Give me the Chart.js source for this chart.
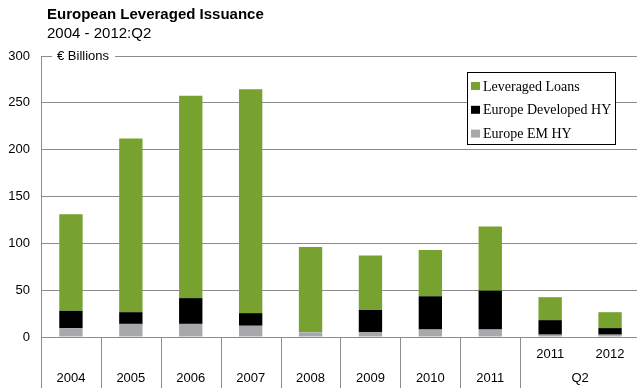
<!DOCTYPE html>
<html>
<head>
<meta charset="utf-8">
<script src="https://cdn.jsdelivr.net/npm/chart.js@4.4.0/dist/chart.umd.min.js"></script>
<style>
  html, body { margin: 0; padding: 0; background: #fff; overflow: hidden; }
  #wrap { position: relative; width: 641px; height: 388px; }
</style>
</head>
<body>
<div id="wrap"><canvas id="issuanceChart"></canvas></div>
<script>
// European leveraged issuance, EUR bn
const years = ['2004', '2005', '2006', '2007', '2008', '2009', '2010', '2011', '2011', '2012'];
const quarterLabel = 'Q2';
const quarterFrom = 8; // last two columns are year-to-date Q2
const emHY = [9.5, 14, 14, 12, 5, 5, 8, 8, 2.5, 2.5];
const developedHY = [18.5, 12.5, 27.5, 13.5, 0, 24, 35.5, 41.5, 15.5, 7];
const leveragedLoans = [103, 185.5, 216, 239, 91, 58, 49.5, 68.5, 24.5, 17];
const yTicks = [0, 50, 100, 150, 200, 250, 300];

const SANS = '"Liberation Sans", Arial, sans-serif';
const SERIF = '"Liberation Serif", "Times New Roman", serif';
const LINE = '#8c8c8c';

const decorations = {
  id: 'decorations',
  afterDraw(chart) {
    const { ctx, chartArea } = chart;
    const x = chart.scales.x;
    const step = x.getPixelForValue(1) - x.getPixelForValue(0);
    const edge = i => x.getPixelForValue(0) + (i - 0.5) * step;

    ctx.save();
    // heading
    ctx.fillStyle = '#000';
    ctx.textAlign = 'left';
    ctx.textBaseline = 'alphabetic';
    ctx.font = 'bold 15px ' + SANS;
    ctx.fillText('European Leveraged Issuance', 47, 19);
    ctx.font = '15px ' + SANS;
    ctx.fillText('2004 - 2012:Q2', 47, 37.5);

    // unit label sitting on the top gridline
    ctx.fillStyle = '#fff';
    ctx.fillRect(52, chartArea.top - 7, 63, 14);
    ctx.fillStyle = '#000';
    ctx.font = '13px ' + SANS;
    ctx.textBaseline = 'middle';
    ctx.fillText('\u20AC Billions', 57, chartArea.top);

    // category dividers below the axis (no split inside the Q2 group)
    ctx.strokeStyle = LINE;
    ctx.lineWidth = 1;
    ctx.beginPath();
    for (let i = 0; i <= years.length; i++) {
      if (i === quarterFrom + 1) continue;
      const px = Math.round(edge(i)) + 0.5;
      ctx.moveTo(px, chartArea.bottom);
      ctx.lineTo(px, chart.height);
    }
    ctx.stroke();

    // group label under the Q2 columns
    ctx.textAlign = 'center';
    ctx.fillText(quarterLabel, edge(quarterFrom + 1), 378);

    // legend box
    const bx = 467.5, by = 72.5, bw = 148, bh = 72;
    ctx.fillStyle = '#fff';
    ctx.fillRect(bx, by, bw, bh);
    ctx.strokeStyle = '#000';
    ctx.strokeRect(bx, by, bw, bh);
    ctx.font = '14px ' + SERIF;
    ctx.textAlign = 'left';
    const rows = chart.data.datasets.slice().reverse();
    rows.forEach((ds, i) => {
      const cy = 86 + i * 23.8;
      ctx.fillStyle = ds.backgroundColor;
      ctx.fillRect(471, cy - 4, 9, 8);
      ctx.fillStyle = '#000';
      ctx.fillText(ds.label, 483, cy + 1);
    });
    ctx.restore();
  }
};

const ctx = document.getElementById('issuanceChart').getContext('2d');
new Chart(ctx, {
  type: 'bar',
  data: {
    labels: years,
    datasets: [
      { label: 'Europe EM HY', data: emHY, backgroundColor: '#a7a8ab' },
      { label: 'Europe Developed HY', data: developedHY, backgroundColor: '#000000' },
      { label: 'Leveraged Loans', data: leveragedLoans, backgroundColor: '#77a22f' }
    ]
  },
  options: {
    responsive: true,
    maintainAspectRatio: false,
    animation: false,
    events: [],
    layout: { padding: { top: 56, right: 1, left: 0, bottom: 0 } },
    datasets: { bar: { categoryPercentage: 1, barPercentage: 0.39 } },
    scales: {
      x: {
        stacked: true,
        grid: { display: false },
        border: { display: false },
        ticks: {
          color: '#000',
          font: { family: SANS, size: 13, lineHeight: 1.85 },
          padding: -3,
          maxRotation: 0,
          autoSkip: false,
          callback: (v, i) => (i >= quarterFrom ? [years[i], ''] : ['', years[i]])
        },
        afterFit: scale => { scale.height = 51; }
      },
      y: {
        stacked: true,
        min: 0,
        max: 300,
        grid: { color: LINE, drawTicks: false },
        border: { color: LINE },
        ticks: {
          color: '#000',
          font: { family: SANS, size: 13 },
          padding: 11
        },
        afterBuildTicks: scale => { scale.ticks = yTicks.map(v => ({ value: v })); },
        afterFit: scale => { scale.width = 41; }
      }
    },
    plugins: {
      legend: { display: false },
      tooltip: { enabled: false }
    }
  },
  plugins: [decorations]
});
</script>
</body>
</html>
